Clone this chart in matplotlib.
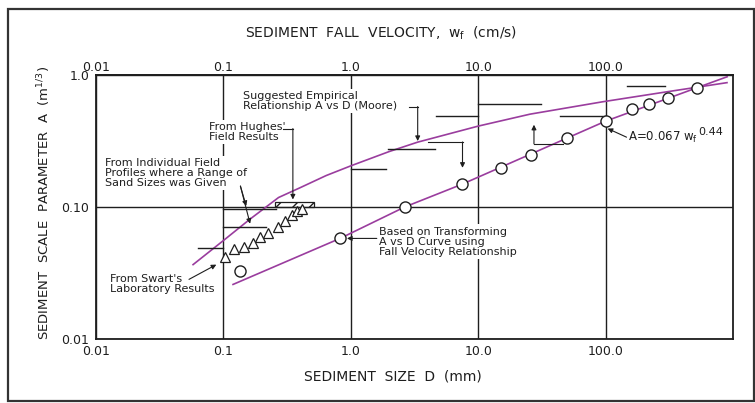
import matplotlib

matplotlib.use('Agg')
import matplotlib.pyplot as plt
from matplotlib.patches import Rectangle
from matplotlib.ticker import NullLocator

# values
x_ticks = [0.01, 0.1, 1.0, 10.0, 100.0]
x_tick_labels = ['0.01', '0.1', '1.0', '10.0', '100.0']
y_ticks = [0.01, 0.1, 1.0]
y_tick_labels = ['0.01', '0.10', '1.0']

# Moore's suggested A vs D curve
moore_d = [0.0578, 0.1, 0.162, 0.271, 0.4, 0.64, 1.0, 2.0, 3.35, 10.0, 25.5, 95.0, 300.0, 897.0]
moore_a = [0.0366, 0.0557, 0.081, 0.118, 0.14, 0.173, 0.205, 0.263, 0.31, 0.41, 0.505, 0.627,
           0.745, 0.875]

# transformed curve (A vs fall velocity)
trans_w = [0.119, 0.83, 2.65, 7.5, 100.0, 520.0, 900.0]
trans_a = [0.0259, 0.058, 0.1, 0.149, 0.447, 0.80, 0.97]

# open circles
circ_w = [0.136, 0.83, 2.65, 7.5, 15.0, 26.0, 50.0, 100.0, 160.0, 220.0, 310.0, 520.0]
circ_a = [0.033, 0.058, 0.1, 0.149, 0.196, 0.249, 0.334, 0.447, 0.548, 0.607, 0.67, 0.80]

# Swart's laboratory results (triangles)
swart_d = [0.1035, 0.121, 0.146, 0.170, 0.195, 0.224, 0.266, 0.306, 0.345, 0.376, 0.416]
swart_a = [0.0416, 0.0482, 0.0499, 0.0537, 0.0589, 0.0634, 0.0707, 0.0789, 0.0865, 0.093, 0.0964]

# field profiles with a range of sand sizes (horizontal bars)
bar_lo = [1.0, 1.97, 4.7, 10.0, 44.0, 146.0, 0.063, 0.1, 0.1]
bar_hi = [1.9, 4.6, 10.0, 31.0, 100.0, 292.0, 0.1, 0.217, 0.257]
bar_a = [0.195, 0.277, 0.487, 0.607, 0.487, 0.82, 0.049, 0.0707, 0.097]

# Hughes' field results (hatched box)
hughes_d = [0.253, 0.51]
hughes_a = [0.1, 0.11]

purple = '#9a3d9e'
ink = '#1e1e1e'

fig = plt.figure(figsize=(7.55, 4.03), dpi=100)
ax = fig.add_axes([96 / 755, 1 - 339 / 403, (733 - 96) / 755, (339 - 75) / 403])
ax.set_xscale('log')
ax.set_yscale('log')
ax.set_xlim(0.01, 1000)
ax.set_ylim(0.01, 1.0)

ax.set_xticks(x_ticks)
ax.set_xticklabels(x_tick_labels)
ax.set_yticks(y_ticks)
ax.set_yticklabels(y_tick_labels)
ax.xaxis.set_minor_locator(NullLocator())
ax.yaxis.set_minor_locator(NullLocator())
ax.tick_params(axis='x', length=0, labelsize=9, pad=4, labelcolor=ink)
ax.tick_params(axis='y', length=0, labelsize=9, pad=5, labelcolor=ink)
ax.grid(True, which='major', color=ink, lw=1.0)
for s in ax.spines.values():
    s.set_linewidth(1.3)
    s.set_color(ink)

# top axis (fall velocity), same scale
top = ax.secondary_xaxis('top')
top.set_xticks(x_ticks)
top.set_xticklabels(x_tick_labels)
top.xaxis.set_minor_locator(NullLocator())
top.tick_params(length=0, labelsize=9, pad=1, labelcolor=ink)
top.spines['top'].set_linewidth(1.3)
top.spines['top'].set_color(ink)

# curves
ax.plot(moore_d, moore_a, color=purple, lw=1.2, zorder=2)
ax.plot(trans_w, trans_a, color=purple, lw=1.2, zorder=2)

# bars
for lo, hi, a in zip(bar_lo, bar_hi, bar_a):
    ax.plot([lo, hi], [a, a], color=ink, lw=1.0, zorder=2)

ax.add_patch(Rectangle((hughes_d[0], hughes_a[0]), hughes_d[1] - hughes_d[0],
                       hughes_a[1] - hughes_a[0], fill=False, hatch='//',
                       edgecolor=ink, lw=0.9, zorder=3))

ax.plot(swart_d, swart_a, ls='none', marker='^', ms=7, mfc='white', mec=ink,
        mew=0.9, zorder=4)
ax.plot(circ_w, circ_a, ls='none', marker='o', ms=8, mfc='white', mec=ink,
        mew=1.0, zorder=4)

# annotations
box = dict(facecolor='white', edgecolor='none', pad=1.5)
tkw = dict(fontsize=8, color=ink, linespacing=1.0, va='center', ha='left',
           bbox=box, zorder=3)
ax.text(0.1435, 0.632, 'Suggested Empirical\nRelationship A vs D (Moore)', **tkw)
ax.text(0.0774, 0.371, "From Hughes'\nField Results", **tkw)
ax.text(0.0118, 0.182, 'From Individual Field\nProfiles where a Range of\n'
        'Sand Sizes was Given', **tkw)
ax.text(0.0129, 0.0259, "From Swart's\nLaboratory Results", **tkw)
ax.text(1.66, 0.0547, 'Based on Transforming\nA vs D Curve using\n'
        'Fall Velocity Relationship', **tkw)
ax.text(149, 0.338, r'A=0.067 w$_\mathregular{f}$',
        fontsize=8.5, color=ink, va='center', ha='left', zorder=3)
ax.annotate('0.44', xy=(149, 0.338), xytext=(51, 4), textcoords='offset points',
            fontsize=8, color=ink, va='center', ha='left', zorder=3)

akw = dict(arrowstyle='-|>', lw=0.8, color=ink, mutation_scale=7,
           shrinkA=0, shrinkB=0)


def arrow(start, tip):
    ax.annotate('', xy=tip, xytext=start, arrowprops=akw, zorder=5)


def seg(xs, ys):
    ax.plot(xs, ys, color=ink, lw=0.8, zorder=5)


seg([2.88, 3.35], [0.577, 0.577])
arrow((3.35, 0.577), (3.35, 0.316))
seg([4.04, 7.53], [0.311, 0.311])
arrow((7.53, 0.311), (7.53, 0.198))
seg([0.295, 0.351], [0.393, 0.393])
arrow((0.351, 0.393), (0.351, 0.114))
arrow((0.136, 0.144), (0.151, 0.1017))
arrow((0.136, 0.144), (0.162, 0.0747))
arrow((0.0537, 0.0283), (0.088, 0.0366))
arrow((1.60, 0.0578), (0.933, 0.0578))
arrow((146, 0.338), (103.7, 0.393))
seg([46.1, 27.4], [0.301, 0.301])
arrow((27.4, 0.301), (27.4, 0.42))

# axis titles
fig.text(381 / 755, 1 - 33 / 403, r'SEDIMENT  FALL  VELOCITY,  w$_\mathregular{f}$  (cm/s)',
         ha='center', va='center', fontsize=10, color=ink)
fig.text(393 / 755, 1 - 377 / 403, 'SEDIMENT  SIZE  D  (mm)',
         ha='center', va='center', fontsize=10, color=ink)
fig.text(44 / 755, 1 - 203 / 403,
         r'SEDIMENT  SCALE  PARAMETER  A  (m$^\mathregular{1/3}$)',
         ha='center', va='center', rotation=90, fontsize=9.5, color=ink)

# outer frame
fig.add_artist(Rectangle((8 / 755, 2 / 403), 746 / 755, 392 / 403,
                         transform=fig.transFigure, fill=False,
                         edgecolor='#333333', lw=1.6))

fig.savefig('out.png', dpi=100)
